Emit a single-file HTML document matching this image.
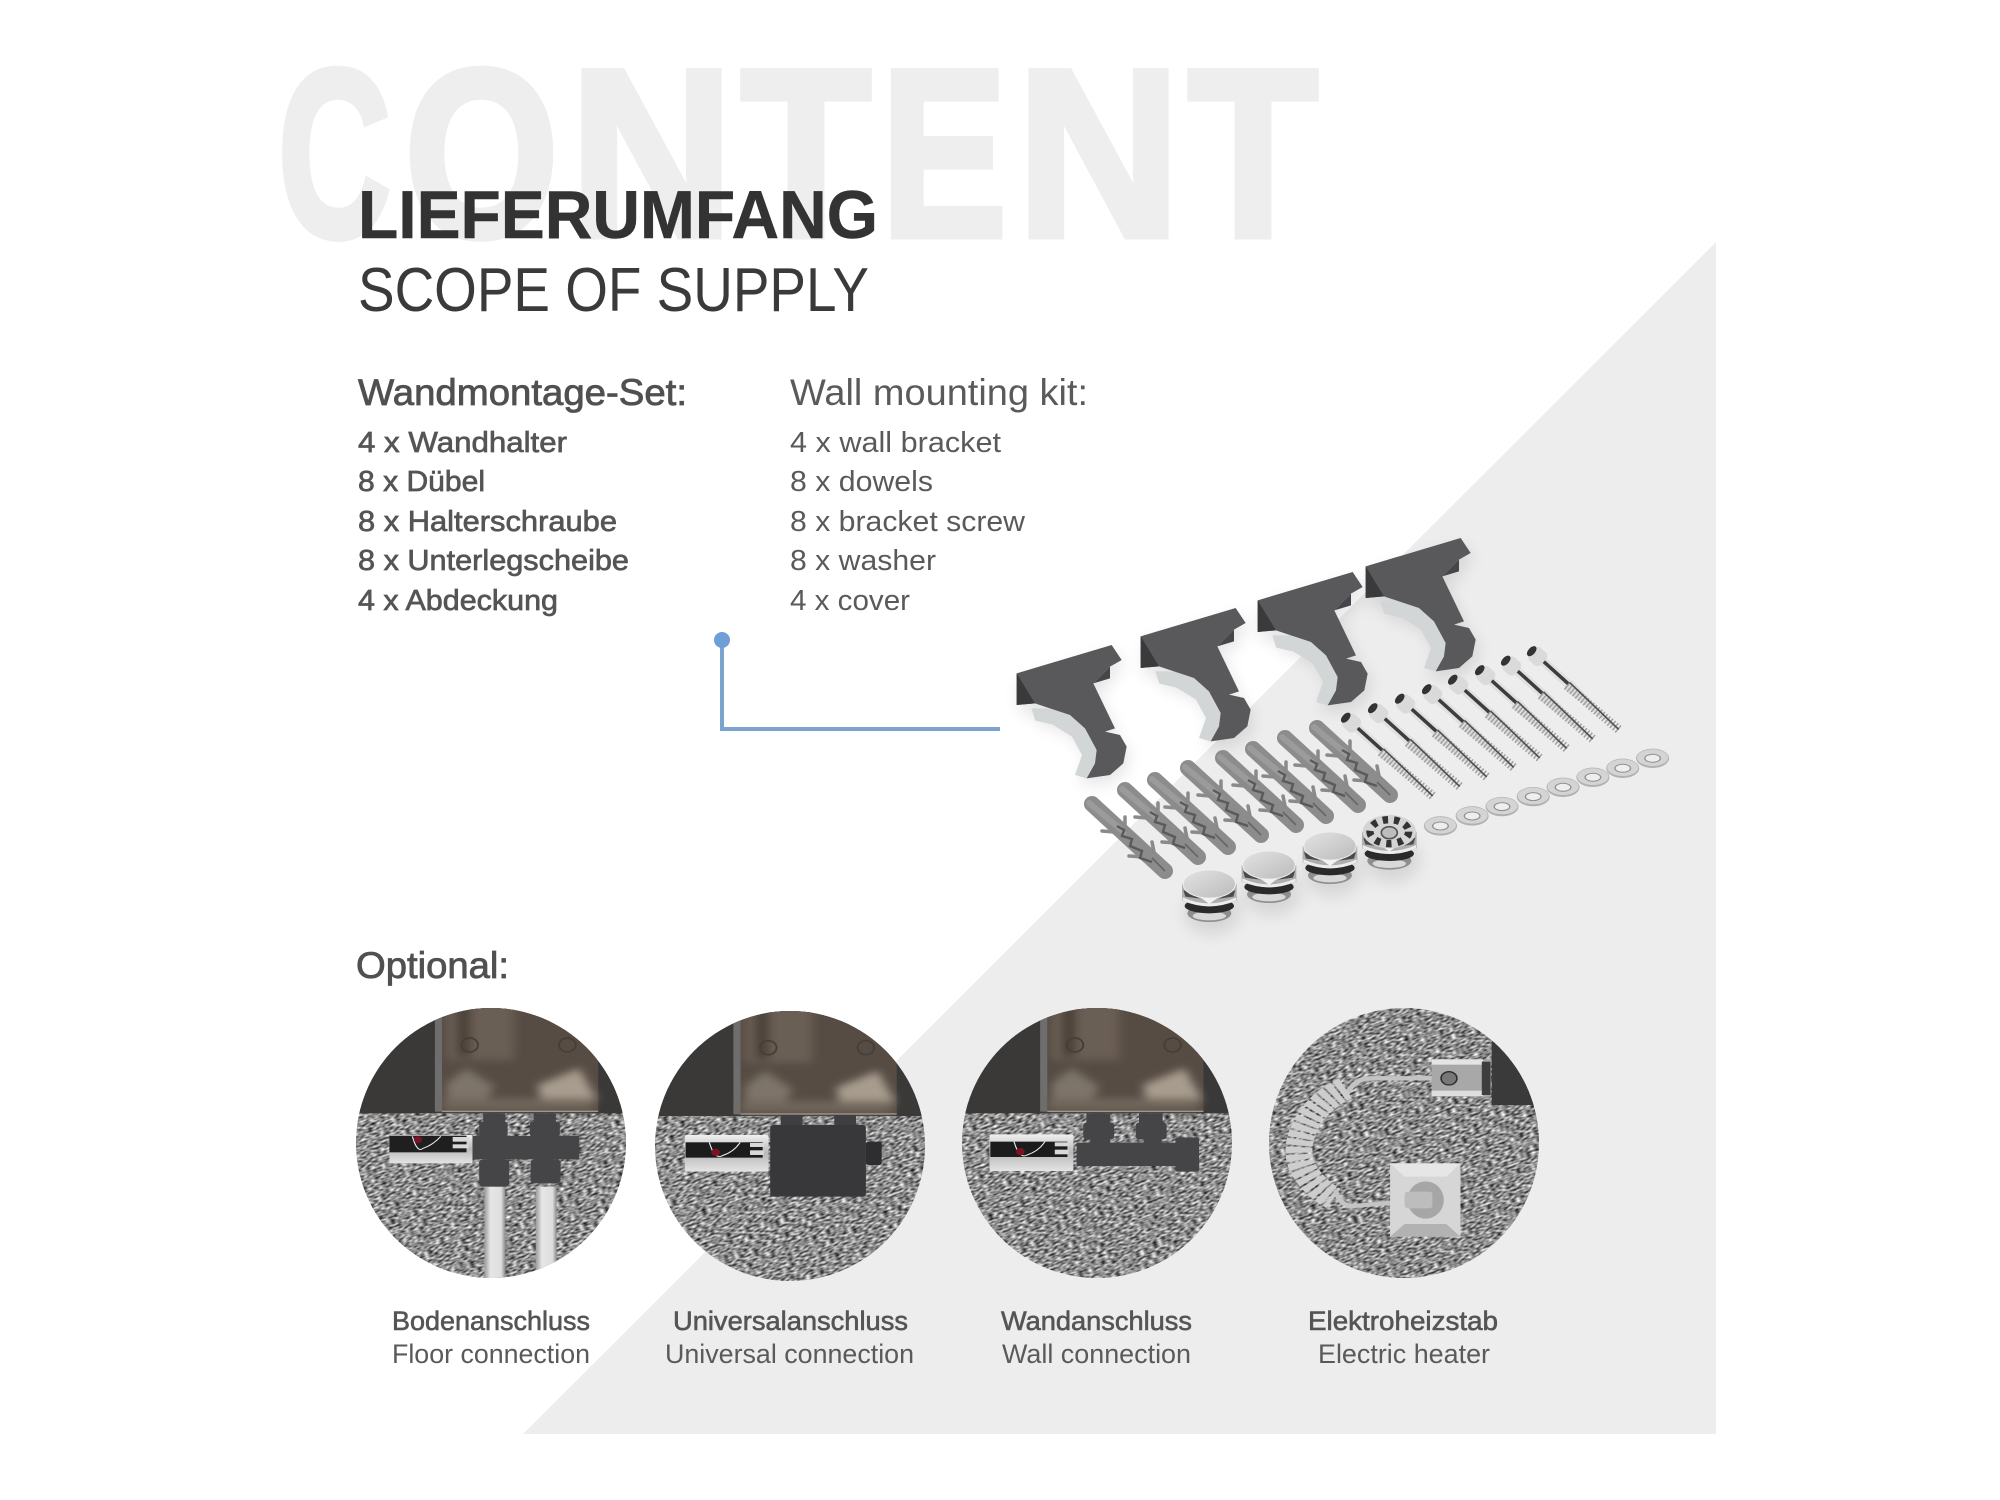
<!DOCTYPE html>
<html><head><meta charset="utf-8"><style>
html,body{margin:0;padding:0;background:#fff}
svg{display:block}
text{font-family:"Liberation Sans",sans-serif}
.m{fill:#555;stroke:#555;stroke-width:.7}
.l{fill:#5a5a5a}
.ml{fill:#505050;stroke:#505050;stroke-width:.8}
.c{fill:#555;stroke:#555;stroke-width:.6}
</style></head><body>
<svg width="2000" height="1500" viewBox="0 0 2000 1500" xmlns="http://www.w3.org/2000/svg">
<defs>
<filter id="carpet" x="0" y="0" width="1" height="1" color-interpolation-filters="sRGB">
<feTurbulence type="fractalNoise" baseFrequency=".2 .5" numOctaves="1" seed="4"/>
<feColorMatrix values="1.5 0 0 0 -.2 1.5 0 0 0 -.2 1.5 0 0 0 -.2 0 0 0 0 1"/>
</filter>
<filter id="b8"><feGaussianBlur stdDeviation="12"/></filter>
<filter id="sh" x="-20%" y="-20%" width="140%" height="140%"><feGaussianBlur stdDeviation="8"/></filter>
<clipPath id="c1"><circle cx="491" cy="1143" r="135"/></clipPath>
<clipPath id="c2"><circle cx="790" cy="1146" r="135"/></clipPath>
<clipPath id="c3"><circle cx="1097" cy="1143" r="135"/></clipPath>
<clipPath id="c4"><circle cx="1404" cy="1143" r="135"/></clipPath>
<linearGradient id="pipe" x1="0" x2="1" y1="0" y2="0"><stop offset="0" stop-color="#9a9a9a"/><stop offset=".3" stop-color="#e6e6e6"/><stop offset=".8" stop-color="#dedede"/><stop offset="1" stop-color="#8a8a8a"/></linearGradient>
<linearGradient id="chrome" x1="0" x2="0" y1="0" y2="1"><stop offset="0" stop-color="#f0f0f0"/><stop offset=".5" stop-color="#b8b8b8"/><stop offset="1" stop-color="#e4e4e4"/></linearGradient>
<linearGradient id="capTop" x1="0" x2="1" y1="0" y2="1"><stop offset="0" stop-color="#e2e2e2"/><stop offset="1" stop-color="#bcbcbc"/></linearGradient>

<path id="bShape" d="M20,100 L305,15 L335,60 L300,80 L300,115 L250,130 L315,265 L285,275 L330,285 L350,320 L340,370 L300,405 L230,415 L200,405 L225,340 L190,280 L130,245 L80,235 L70,205 L20,195 Z"/>
<g id="bracket">
<path d="M64,205 L120,205 L180,225 L225,265 L260,330 L255,370 L230,415 L195,405 L216,345 L186,290 L128,254 L76,242 Z" fill="#d3d6d6"/>
<path d="M250,130 L300,80 L300,115 Z" fill="#46464a"/>
<path d="M20,100 L305,15 L335,60 L300,80 L250,130 L315,265 L285,275 L330,285 L350,320 L340,370 L300,405 L230,415 L255,370 L260,330 L225,265 L180,225 L120,205 L75,190 L20,195 Z" fill="#59595b"/>
<path d="M20,100 L75,190 L20,195 Z" fill="#3a3a3c"/>
</g>

<g id="screw">
<rect x="4" y="-4.5" width="48" height="9" fill="#e0e0e0"/>
<rect x="14" y="-2" width="36" height="3.5" fill="#3d3d3d"/>
<path d="M50,-5 L118,-1 L118,1 L50,7 Z" fill="#dcdcdc"/>
<path d="M50,2 L118,0" stroke="#a0a0a0" stroke-width="9" stroke-dasharray="1.5 2"/>
<path d="M50,-2 L118,0" stroke="#4e4e4e" stroke-width="1.6"/>
<rect x="1" y="-8.5" width="16" height="17" rx="5" fill="#dadada"/>
<ellipse cx="1" cy="0" rx="3.5" ry="6" fill="#333"/>
</g>

<g id="dowel">
<path d="M0,0 L73,67" stroke="#8c8c8c" stroke-width="16" stroke-linecap="round" fill="none"/>
<path d="M-3,-1 L32,28" stroke="#9b9b9b" stroke-width="6" stroke-linecap="round" fill="none"/>
<path d="M33,27 L33,13 M22,28 L10,27 M62,48 L60,38 M52,53 L37,52" stroke="#8a8a8a" stroke-width="3.5" stroke-linecap="round" fill="none"/>
<path d="M25,22 L32,26 L30,32 L40,35 L38,42 L50,47 L48,54 L60,58" stroke="#5a5a5a" stroke-width="2.4" fill="none"/>
<path d="M60,54 L73,67" stroke="#666" stroke-width="1.6"/>
</g>

<g id="washer">
<ellipse cx="0" cy="0" rx="36" ry="29" fill="#b0b0b0"/>
<ellipse cx="0" cy="-2" rx="34" ry="25" fill="#d4d4d4"/>
<ellipse cx="0" cy="0" rx="17" ry="12" fill="#eeeeee" stroke="#8f8f8f" stroke-width="3"/>
</g>

<g id="cap">
<ellipse cx="0" cy="88" rx="66" ry="26" fill="#8e8e8e"/>
<ellipse cx="0" cy="96" rx="50" ry="13" fill="#d8d8d8"/>
<ellipse cx="0" cy="66" rx="74" ry="22" fill="#2a2a2a"/>
<path d="M-82,0 L-82,50 Q0,84 82,50 L82,0 Z" fill="#aeaeae"/>
<path d="M-80,40 Q0,76 80,40 L80,50 Q0,84 -80,50 Z" fill="#ececec"/>
<path d="M-78,18 L-28,44 L-72,38 Z M78,18 L28,44 L72,38 Z" fill="#4a4a4a"/>
<path d="M-30,38 L0,60 L30,38 Z" fill="#f2f2f2"/>
<ellipse cx="0" cy="0" rx="80" ry="44" fill="#efefef"/>
<ellipse cx="0" cy="0" rx="77" ry="41" fill="url(#capTop)"/>
</g>

<g id="thermo">
<rect x="0" y="0" width="210" height="85" rx="4" fill="url(#chrome)"/>
<rect x="0" y="2" width="195" height="50" fill="#1f1f1f"/>
<path d="M58,4 Q70,55 85,40 Q110,30 130,4" stroke="#e8e8e8" stroke-width="3" fill="none"/>
<rect x="160" y="6" width="40" height="14" fill="#d8d8d8"/>
<rect x="160" y="28" width="40" height="12" fill="#d8d8d8"/>
<circle cx="72" cy="14" r="10" fill="#7d1227"/>
</g>
<g id="thermoB">
<rect x="0" y="0" width="212" height="110" rx="5" fill="url(#chrome)"/>
<rect x="2" y="22" width="195" height="46" fill="#1c1c1c"/>
<path d="M62,22 Q75,75 95,62 Q125,50 140,22" stroke="#e8e8e8" stroke-width="3" fill="none"/>
<rect x="165" y="24" width="35" height="12" fill="#d8d8d8"/>
<rect x="165" y="46" width="35" height="14" fill="#d8d8d8"/>
<circle cx="78" cy="52" r="11" fill="#7d1227"/>
</g>

<g id="panel">
<rect x="-300" y="-100" width="1100" height="440" fill="#3a3937"/>
<rect x="0" y="-100" width="20" height="435" fill="#6e6e6e"/>
<rect x="18" y="-100" width="395" height="435" fill="#564c44"/>
<g filter="url(#b8)">
<rect x="30" y="-60" width="170" height="240" fill="#6a5e54"/>
<polygon points="260,255 365,205 410,300 270,305" fill="#a89c8e"/>
<polygon points="30,250 80,205 150,260 130,300 30,300" fill="#7e7469"/>
<rect x="55" y="-60" width="35" height="230" fill="#483f38"/>
<rect x="20" y="295" width="380" height="36" fill="#71665c"/>
</g>
<rect x="18" y="332" width="395" height="4" fill="#a0988e"/>
<circle cx="88" cy="135" r="21" fill="none" stroke="#463e37" stroke-width="5"/>
<circle cx="335" cy="135" r="21" fill="none" stroke="#463e37" stroke-width="5"/>
</g>
</defs>

<rect width="2000" height="1500" fill="#fff"/>
<polygon points="523,1434 1716,242 1716,1434" fill="#ededed"/>

<text y="236" font-size="239" font-weight="700" fill="#eeeeee" stroke="#eeeeee" stroke-width="7" lengthAdjust="spacingAndGlyphs"><tspan x="278" textLength="113" lengthAdjust="spacingAndGlyphs">C</tspan><tspan x="404.6" textLength="154" lengthAdjust="spacingAndGlyphs">O</tspan><tspan x="569.6" textLength="164" lengthAdjust="spacingAndGlyphs">N</tspan><tspan x="741" textLength="130" lengthAdjust="spacingAndGlyphs">T</tspan><tspan x="881" textLength="126" lengthAdjust="spacingAndGlyphs">E</tspan><tspan x="1016.6" textLength="164" lengthAdjust="spacingAndGlyphs">N</tspan><tspan x="1188" textLength="130" lengthAdjust="spacingAndGlyphs">T</tspan></text>
<text x="358" y="238" font-size="68" font-weight="700" fill="#333333" stroke="#333" stroke-width=".5" textLength="520" lengthAdjust="spacingAndGlyphs">LIEFERUMFANG</text>
<text x="358" y="311" font-size="62" fill="#3a3a3a" textLength="511" lengthAdjust="spacingAndGlyphs">SCOPE OF SUPPLY</text>

<text x="358" y="405" font-size="37" class="ml" textLength="329" lengthAdjust="spacingAndGlyphs">Wandmontage-Set:</text>
<text x="790" y="405" font-size="37" class="l" textLength="298" lengthAdjust="spacingAndGlyphs">Wall mounting kit:</text>

<text x="358" y="452" font-size="29" class="m" textLength="209" lengthAdjust="spacingAndGlyphs">4 x Wandhalter</text>
<text x="358" y="491" font-size="29" class="m" textLength="127" lengthAdjust="spacingAndGlyphs">8 x Dübel</text>
<text x="358" y="531" font-size="29" class="m" textLength="259" lengthAdjust="spacingAndGlyphs">8 x Halterschraube</text>
<text x="358" y="570" font-size="29" class="m" textLength="271" lengthAdjust="spacingAndGlyphs">8 x Unterlegscheibe</text>
<text x="358" y="610" font-size="29" class="m" textLength="200" lengthAdjust="spacingAndGlyphs">4 x Abdeckung</text>

<text x="790" y="452" font-size="29" class="l" textLength="211" lengthAdjust="spacingAndGlyphs">4 x wall bracket</text>
<text x="790" y="491" font-size="29" class="l" textLength="143" lengthAdjust="spacingAndGlyphs">8 x dowels</text>
<text x="790" y="531" font-size="29" class="l" textLength="235" lengthAdjust="spacingAndGlyphs">8 x bracket screw</text>
<text x="790" y="570" font-size="29" class="l" textLength="146" lengthAdjust="spacingAndGlyphs">8 x washer</text>
<text x="790" y="610" font-size="29" class="l" textLength="120" lengthAdjust="spacingAndGlyphs">4 x cover</text>

<!-- blue connector -->
<path d="M722,641 V729 H1000" fill="none" stroke="#7ba3cf" stroke-width="4"/>
<circle cx="722" cy="640" r="8" fill="#6f9fd6"/>

<!-- soft shadows -->
<g fill="#000" opacity=".1" filter="url(#sh)" transform="translate(3,7)">
<use href="#bShape" transform="translate(1010,640) scale(.3333)"/>
<use href="#bShape" transform="translate(1134,603) scale(.3333)"/>
<use href="#bShape" transform="translate(1251,567) scale(.3333)"/>
<use href="#bShape" transform="translate(1359,533) scale(.3333)"/>
<ellipse cx="1209" cy="905" rx="28" ry="22"/>
<ellipse cx="1269" cy="886" rx="28" ry="22"/>
<ellipse cx="1330" cy="867" rx="28" ry="22"/>
<ellipse cx="1389" cy="853" rx="28" ry="22"/>
</g>

<!-- brackets -->
<use href="#bracket" transform="translate(1010,640) scale(.3333)"/>
<use href="#bracket" transform="translate(1134,603) scale(.3333)"/>
<use href="#bracket" transform="translate(1251,567) scale(.3333)"/>
<use href="#bracket" transform="translate(1359,533) scale(.3333)"/>

<!-- screws -->
<use href="#screw" transform="translate(1345,717) rotate(42)"/>
<use href="#screw" transform="translate(1372,707.5) rotate(42)"/>
<use href="#screw" transform="translate(1399,698) rotate(42)"/>
<use href="#screw" transform="translate(1426,688.5) rotate(42)"/>
<use href="#screw" transform="translate(1452,679) rotate(42)"/>
<use href="#screw" transform="translate(1479,669.5) rotate(42)"/>
<use href="#screw" transform="translate(1505,660) rotate(42)"/>
<use href="#screw" transform="translate(1531,650.5) rotate(42)"/>

<!-- dowels -->
<use href="#dowel" transform="translate(1092,804)"/>
<use href="#dowel" transform="translate(1125,790)"/>
<use href="#dowel" transform="translate(1155,780)"/>
<use href="#dowel" transform="translate(1188,768)"/>
<use href="#dowel" transform="translate(1223,758)"/>
<use href="#dowel" transform="translate(1253,749)"/>
<use href="#dowel" transform="translate(1285,738)"/>
<use href="#dowel" transform="translate(1317,728)"/>

<!-- washers -->
<g transform="translate(980,520) scale(.4591,.3333)">
<use href="#washer" x="1003" y="918"/>
<use href="#washer" x="1072" y="888"/>
<use href="#washer" x="1137" y="860"/>
<use href="#washer" x="1205" y="830"/>
<use href="#washer" x="1270" y="802"/>
<use href="#washer" x="1335" y="772"/>
<use href="#washer" x="1400" y="745"/>
<use href="#washer" x="1465" y="715"/>
</g>

<!-- caps -->
<g transform="translate(1170,800) scale(.3333)">
<use href="#cap" x="118" y="252"/>
<use href="#cap" x="297" y="195"/>
<use href="#cap" x="480" y="138"/>
<use href="#cap" x="658" y="95"/>
<ellipse cx="658" cy="95" rx="80" ry="50" fill="#d4d4d4"/>
<ellipse cx="658" cy="95" rx="58" ry="36" fill="none" stroke="#333" stroke-width="22" stroke-dasharray="16 18"/>
<ellipse cx="658" cy="98" rx="24" ry="18" fill="#bdbdbd" stroke="#555" stroke-width="5"/>
</g>

<text x="356" y="978" font-size="37" class="ml" textLength="153" lengthAdjust="spacingAndGlyphs">Optional:</text>

<!-- circle 1 -->
<g clip-path="url(#c1)">
<rect x="300" y="950" width="380" height="380" fill="#8c8c8c" filter="url(#carpet)" transform="rotate(-20 491 1143)"/>
<g transform="translate(340,1000) scale(.3954,.3333)">
<use href="#panel" x="240"/>
<rect x="365" y="560" width="53" height="290" fill="url(#pipe)"/>
<rect x="495" y="560" width="53" height="250" fill="url(#pipe)"/>
<g fill="#454547">
<rect x="362" y="340" width="56" height="30"/>
<rect x="352" y="365" width="72" height="45" rx="8"/>
<rect x="375" y="405" width="40" height="80"/>
<rect x="352" y="478" width="76" height="82" rx="10"/>
<rect x="490" y="340" width="56" height="30"/>
<rect x="480" y="365" width="76" height="45" rx="8"/>
<rect x="498" y="405" width="40" height="80"/>
<rect x="482" y="478" width="76" height="72" rx="10"/>
<rect x="335" y="408" width="270" height="70"/>
</g>
<use href="#thermo" x="125" y="405"/>
</g>
</g>

<!-- circle 2 -->
<g clip-path="url(#c2)">
<rect x="600" y="955" width="380" height="380" fill="#8c8c8c" filter="url(#carpet)" transform="rotate(-20 790 1146)"/>
<g transform="translate(340,1000) scale(.3954,.3333)">
<use href="#panel" x="995" y="8"/>
<rect x="1115" y="345" width="55" height="40" fill="#3f3f41"/>
<rect x="1250" y="345" width="55" height="40" fill="#3f3f41"/>
<rect x="1088" y="375" width="242" height="215" rx="8" fill="#38383a"/>
<rect x="1330" y="425" width="40" height="70" rx="6" fill="#2e2e30"/>
<use href="#thermoB" x="872" y="405"/>
</g>
</g>

<!-- circle 3 -->
<g clip-path="url(#c3)">
<rect x="907" y="950" width="380" height="380" fill="#8c8c8c" filter="url(#carpet)" transform="rotate(-20 1097 1143)"/>
<g transform="translate(950,1000) scale(.3954,.3333)">
<use href="#panel" x="228"/>
<g fill="#454547">
<rect x="345" y="340" width="60" height="30"/>
<rect x="337" y="368" width="78" height="50" rx="8"/>
<rect x="478" y="340" width="60" height="30"/>
<rect x="470" y="368" width="78" height="50" rx="8"/>
<rect x="355" y="410" width="50" height="40"/>
<rect x="490" y="410" width="45" height="40"/>
<rect x="320" y="428" width="255" height="70"/>
<rect x="570" y="412" width="60" height="103" rx="6"/>
</g>
<use href="#thermoB" x="100" y="403"/>
</g>
</g>

<!-- circle 4 -->
<g clip-path="url(#c4)">
<rect x="1214" y="950" width="380" height="380" fill="#8c8c8c" filter="url(#carpet)" transform="rotate(-20 1404 1143)"/>
<g transform="translate(950,1000) scale(.3954,.3333)">
<rect x="1370" y="100" width="140" height="215" fill="#3a3a3a"/>
<rect x="1218" y="178" width="150" height="112" fill="#a8a8a8"/>
<rect x="1218" y="178" width="130" height="16" fill="#e4e4e4"/>
<rect x="1218" y="272" width="130" height="16" fill="#dedede"/>
<rect x="1345" y="185" width="22" height="100" fill="#3e3e3e"/>
<circle cx="1262" cy="235" r="20" fill="#777" stroke="#2e2e2e" stroke-width="4"/>
<path d="M1218,235 H1060 Q1025,235 1005,280" fill="none" stroke="#c4c4c4" stroke-width="13"/>
<path d="M1000,265 C900,320 860,440 895,510 C915,550 945,580 970,595" fill="none" stroke="#cdcdcd" stroke-width="68" stroke-dasharray="17 5"/>
<path d="M975,570 Q985,620 1020,618 L1150,605" fill="none" stroke="#c4c4c4" stroke-width="13"/>
<rect x="1113" y="490" width="178" height="220" fill="#d6d6d6"/>
<polygon points="1113,710 1150,672 1255,672 1291,710" fill="#b2b2b2"/>
<polygon points="1113,490 1150,530 1255,530 1291,490" fill="#e6e6e6"/>
<ellipse cx="1203" cy="600" rx="46" ry="56" fill="#a6a6a6"/>
<rect x="1150" y="575" width="70" height="50" rx="8" fill="#bdbdbd"/>
</g>
</g>

<!-- captions -->
<text x="392" y="1330" font-size="27" class="c" textLength="198" lengthAdjust="spacingAndGlyphs">Bodenanschluss</text>
<text x="392" y="1363" font-size="27" class="l" textLength="198" lengthAdjust="spacingAndGlyphs">Floor connection</text>
<text x="673" y="1330" font-size="27" class="c" textLength="235" lengthAdjust="spacingAndGlyphs">Universalanschluss</text>
<text x="665" y="1363" font-size="27" class="l" textLength="249" lengthAdjust="spacingAndGlyphs">Universal connection</text>
<text x="1001" y="1330" font-size="27" class="c" textLength="191" lengthAdjust="spacingAndGlyphs">Wandanschluss</text>
<text x="1002" y="1363" font-size="27" class="l" textLength="189" lengthAdjust="spacingAndGlyphs">Wall connection</text>
<text x="1308" y="1330" font-size="27" class="c" textLength="190" lengthAdjust="spacingAndGlyphs">Elektroheizstab</text>
<text x="1318" y="1363" font-size="27" class="l" textLength="172" lengthAdjust="spacingAndGlyphs">Electric heater</text>
</svg>
</body></html>
